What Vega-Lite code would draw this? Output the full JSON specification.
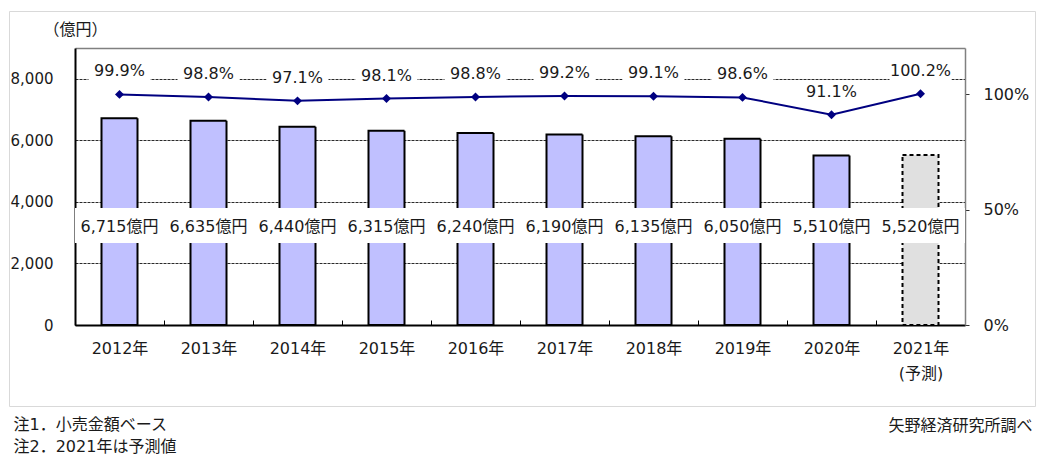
{
  "$schema": "https://vega.github.io/schema/vega-lite/v6.json",
  "width": 1026,
  "height": 395,
  "autosize": {"type": "none"},
  "padding": {"left": 9, "top": 11, "right": 8, "bottom": 63},
  "background": "white",
  "config": {
    "font": "DejaVu Sans, Noto Sans CJK JP",
    "view": {"stroke": "#d9d9d9", "strokeWidth": 1},
    "axis": {"labelColor": "#1a1a1a", "titleColor": "#1a1a1a", "labelFont": "DejaVu Sans, Noto Sans CJK JP", "titleFont": "DejaVu Sans, Noto Sans CJK JP", "titleFontWeight": "normal"},
    "text": {"font": "DejaVu Sans, Noto Sans CJK JP", "color": "#1a1a1a"}
  },
  "data": {
    "values": [
      {"year": "2012年", "amount": 6715, "amount_label": "6,715億円", "pct": 0.999, "pct_label": "99.9%", "kind": "実績"},
      {"year": "2013年", "amount": 6635, "amount_label": "6,635億円", "pct": 0.988, "pct_label": "98.8%", "kind": "実績"},
      {"year": "2014年", "amount": 6440, "amount_label": "6,440億円", "pct": 0.971, "pct_label": "97.1%", "kind": "実績"},
      {"year": "2015年", "amount": 6315, "amount_label": "6,315億円", "pct": 0.981, "pct_label": "98.1%", "kind": "実績"},
      {"year": "2016年", "amount": 6240, "amount_label": "6,240億円", "pct": 0.988, "pct_label": "98.8%", "kind": "実績"},
      {"year": "2017年", "amount": 6190, "amount_label": "6,190億円", "pct": 0.992, "pct_label": "99.2%", "kind": "実績"},
      {"year": "2018年", "amount": 6135, "amount_label": "6,135億円", "pct": 0.991, "pct_label": "99.1%", "kind": "実績"},
      {"year": "2019年", "amount": 6050, "amount_label": "6,050億円", "pct": 0.986, "pct_label": "98.6%", "kind": "実績"},
      {"year": "2020年", "amount": 5510, "amount_label": "5,510億円", "pct": 0.911, "pct_label": "91.1%", "kind": "実績"},
      {"year": "2021年", "amount": 5520, "amount_label": "5,520億円", "pct": 1.002, "pct_label": "100.2%", "kind": "予測"}
    ]
  },
  "encoding": {
    "x": {
      "field": "year",
      "type": "nominal",
      "sort": null,
      "scale": {"range": [66, 956], "paddingInner": 0, "paddingOuter": 0},
      "axis": {
        "orient": "bottom",
        "offset": -81,
        "domainColor": "#000000",
        "domainWidth": 2,
        "tickBand": "extent",
        "tickSize": -5,
        "tickColor": "#000000",
        "tickWidth": 1,
        "labelAngle": 0,
        "labelFontSize": 16,
        "labelPadding": 20,
        "labelLineHeight": 25,
        "labelExpr": "datum.value == '2021年' ? ['2021年', '(予測)'] : datum.value",
        "title": ["注1．小売金額ベース", "注2．2021年は予測値"],
        "titleX": 4,
        "titleY": 104,
        "titleAlign": "left",
        "titleAnchor": "start",
        "titleBaseline": "alphabetic",
        "titleLineHeight": 22,
        "titleFontSize": 16
      }
    }
  },
  "layer": [
    {
      "mark": {"type": "bar", "size": 36, "stroke": "#000000", "strokeWidth": 2},
      "encoding": {
        "y": {
          "field": "amount",
          "type": "quantitative",
          "scale": {"domain": [0, 9000], "range": [314, 37], "nice": false, "zero": true},
          "axis": {
            "orient": "left",
            "offset": -66,
            "values": [0, 2000, 4000, 6000, 8000, 9000],
            "labelExpr": "datum.value == 9000 ? '' : format(datum.value, ',')",
            "labelFontSize": 15,
            "labelPadding": 22,
            "ticks": false,
            "domainColor": "#000000",
            "domainWidth": 2,
            "grid": true,
            "gridColor": {"condition": {"test": "datum.value == 9000", "value": "#808080"}, "value": "#2a2a2a"},
            "gridDash": {"condition": {"test": "datum.value == 9000", "value": [1, 0]}, "value": [3, 1]},
            "gridWidth": {"condition": {"test": "datum.value == 9000", "value": 1.5}, "value": 1},
            "title": "（億円）",
            "titleAngle": 0,
            "titleX": 0,
            "titleY": 18,
            "titleAlign": "center",
            "titleBaseline": "middle",
            "titleFontSize": 16
          }
        },
        "color": {"field": "kind", "type": "nominal", "scale": {"domain": ["実績", "予測"], "range": ["#c0c0ff", "#e0e0e0"]}, "legend": null},
        "strokeDash": {"field": "kind", "type": "nominal", "scale": {"domain": ["実績", "予測"], "range": [[1, 0], [4, 3]]}, "legend": null}
      }
    },
    {
      "mark": {"type": "bar", "size": 89, "fill": "white", "strokeWidth": 0},
      "encoding": {
        "y": {"datum": 2665, "type": "quantitative", "scale": {"domain": [0, 9000], "range": [314, 37], "nice": false, "zero": true}, "axis": null},
        "y2": {"datum": 3800}
      }
    },
    {
      "mark": {"type": "text", "fontSize": 16, "baseline": "middle", "align": "center"},
      "encoding": {
        "y": {"datum": 3190, "type": "quantitative", "scale": {"domain": [0, 9000], "range": [314, 37], "nice": false, "zero": true}, "axis": null},
        "text": {"field": "amount_label"}
      }
    },
    {
      "mark": {"type": "bar", "size": 62, "fill": "white", "strokeWidth": 0, "yOffset": -33, "y2Offset": -12},
      "encoding": {
        "y": {
          "field": "pct",
          "type": "quantitative",
          "scale": {"domain": [0, 1.2], "range": [314, 37], "nice": false, "zero": true},
          "axis": {
            "orient": "right",
            "offset": -70,
            "values": [0, 0.5, 1],
            "format": ".0%",
            "labelFontSize": 16,
            "labelPadding": 14,
            "tickSize": 4,
            "tickColor": "#333333",
            "domainColor": "#808080",
            "domainWidth": 1.5,
            "grid": false,
            "title": "矢野経済研究所調べ",
            "titleAngle": 0,
            "titleX": 67,
            "titleY": 414,
            "titleAlign": "right",
            "titleBaseline": "middle",
            "titleFontSize": 16
          }
        },
        "y2": {"field": "pct"}
      }
    },
    {
      "mark": {"type": "line", "color": "#000080", "strokeWidth": 2},
      "encoding": {"y": {"field": "pct", "type": "quantitative", "scale": {"domain": [0, 1.2], "range": [314, 37], "nice": false, "zero": true}, "axis": null}}
    },
    {
      "mark": {"type": "point", "shape": "diamond", "filled": true, "size": 80, "color": "#000080", "opacity": 1},
      "encoding": {"y": {"field": "pct", "type": "quantitative", "scale": {"domain": [0, 1.2], "range": [314, 37], "nice": false, "zero": true}, "axis": null}}
    },
    {
      "mark": {"type": "text", "fontSize": 16, "dy": -23, "baseline": "middle", "align": "center"},
      "encoding": {
        "y": {"field": "pct", "type": "quantitative", "scale": {"domain": [0, 1.2], "range": [314, 37], "nice": false, "zero": true}, "axis": null},
        "text": {"field": "pct_label"}
      }
    }
  ],
  "resolve": {"scale": {"y": "independent"}}
}
